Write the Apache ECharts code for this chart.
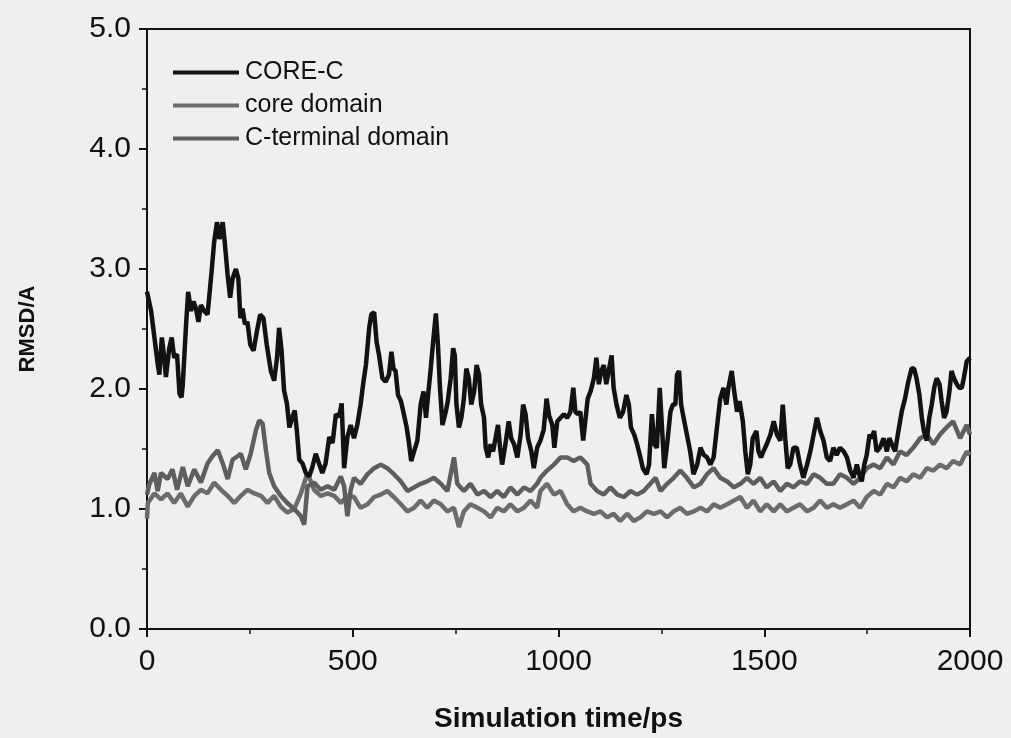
<!DOCTYPE html>
<html>
<head>
<meta charset="utf-8">
<script src="https://cdn.jsdelivr.net/npm/echarts@6/dist/echarts.min.js"></script>
<style>
html,body{margin:0;padding:0;background:#efefef;}
#c{width:1011px;height:738px;}
</style>
</head>
<body>
<div id="c"></div>
<script>
// ---- data (time in ps, RMSD in Å) ----
const xTicks = [0, 500, 1000, 1500, 2000];
const yTicks = [0.0, 1.0, 2.0, 3.0, 4.0, 5.0];
const seriesNames = ["CORE-C", "core domain", "C-terminal domain"];

const coreCTime = [0,10,18,26,30,36,41,46,54,60,66,73,79,84,87,95,100,107,113,119,125,131,139,147,151,157,163,170,176,184,189,196,202,208,216,222,227,232,238,244,251,259,267,275,283,291,301,309,316,321,327,333,340,346,354,359,364,370,378,386,394,402,410,418,426,434,443,451,459,467,473,479,487,495,503,511,519,526,532,540,545,552,558,564,572,580,588,594,599,604,610,617,623,631,637,642,649,657,665,672,678,684,689,696,702,707,712,718,726,731,738,744,748,752,758,764,770,776,782,788,795,801,807,812,819,823,829,835,841,847,853,858,863,871,879,885,892,900,908,914,920,926,934,940,948,956,964,971,977,985,990,997,1005,1013,1021,1029,1036,1041,1047,1053,1060,1066,1071,1078,1086,1092,1098,1104,1110,1116,1122,1129,1134,1141,1149,1157,1165,1171,1176,1184,1191,1199,1205,1214,1220,1227,1233,1239,1246,1252,1257,1264,1272,1278,1284,1288,1293,1298,1304,1312,1320,1328,1337,1345,1353,1361,1369,1377,1385,1393,1401,1408,1413,1421,1427,1434,1440,1448,1454,1460,1466,1472,1481,1486,1492,1498,1506,1515,1523,1531,1539,1545,1551,1557,1563,1571,1579,1587,1595,1604,1612,1620,1628,1636,1644,1652,1660,1668,1676,1684,1693,1701,1709,1717,1725,1731,1737,1743,1749,1756,1761,1767,1773,1781,1790,1798,1804,1810,1818,1826,1834,1842,1850,1858,1864,1870,1877,1883,1888,1895,1901,1907,1913,1919,1926,1931,1937,1943,1950,1955,1961,1968,1974,1980,1985,1992,2000];
const coreCRmsd = [2.81,2.65,2.43,2.21,2.12,2.43,2.29,2.10,2.34,2.43,2.26,2.29,1.96,1.93,2.04,2.54,2.81,2.65,2.73,2.67,2.56,2.70,2.65,2.62,2.76,2.98,3.22,3.39,3.25,3.39,3.22,2.95,2.76,2.92,3.00,2.92,2.59,2.67,2.54,2.56,2.37,2.32,2.48,2.62,2.59,2.37,2.15,2.07,2.26,2.51,2.32,1.99,1.88,1.68,1.77,1.82,1.66,1.41,1.38,1.30,1.27,1.35,1.46,1.38,1.30,1.38,1.60,1.55,1.79,1.77,1.88,1.34,1.60,1.70,1.59,1.70,1.87,2.06,2.20,2.51,2.62,2.64,2.39,2.28,2.09,2.06,2.12,2.31,2.17,2.15,1.95,1.90,1.81,1.68,1.54,1.40,1.48,1.57,1.87,1.98,1.76,1.98,2.15,2.42,2.63,2.37,2.01,1.70,1.81,1.90,2.09,2.34,2.28,1.87,1.68,1.76,1.92,2.17,2.09,1.87,1.98,2.20,2.12,1.87,1.76,1.51,1.43,1.54,1.48,1.59,1.70,1.51,1.37,1.54,1.73,1.59,1.54,1.43,1.62,1.87,1.79,1.59,1.48,1.34,1.51,1.57,1.66,1.92,1.78,1.70,1.51,1.73,1.76,1.79,1.76,1.81,2.01,1.81,1.79,1.81,1.57,1.76,1.92,1.98,2.09,2.26,2.04,2.15,2.20,2.04,2.15,2.28,2.01,1.87,1.76,1.81,1.95,1.87,1.68,1.62,1.54,1.43,1.34,1.29,1.37,1.79,1.54,1.51,2.01,1.65,1.34,1.54,1.81,1.87,1.87,2.12,2.15,1.87,1.76,1.62,1.48,1.29,1.37,1.51,1.45,1.43,1.37,1.43,1.68,1.92,2.01,1.87,2.01,2.15,1.98,1.81,1.90,1.73,1.48,1.29,1.37,1.59,1.65,1.48,1.43,1.48,1.54,1.62,1.73,1.62,1.57,1.87,1.59,1.34,1.37,1.51,1.51,1.37,1.26,1.37,1.48,1.62,1.76,1.65,1.57,1.43,1.40,1.51,1.45,1.51,1.48,1.43,1.32,1.26,1.37,1.29,1.23,1.37,1.45,1.62,1.59,1.65,1.48,1.51,1.59,1.48,1.59,1.54,1.48,1.65,1.81,1.92,2.06,2.17,2.17,2.09,1.95,1.76,1.65,1.57,1.76,1.87,2.01,2.09,2.04,1.90,1.76,1.81,1.98,2.15,2.09,2.04,2.01,2.01,2.09,2.23,2.26];

const coreDomTime = [0,2,18,34,50,66,82,99,115,131,147,163,180,196,212,228,244,261,277,293,309,325,341,358,374,390,406,422,439,455,471,487,503,519,536,552,568,584,600,617,633,649,665,681,697,714,730,746,758,770,786,803,819,835,851,867,883,900,916,932,948,956,972,989,1005,1021,1037,1053,1070,1086,1102,1118,1134,1150,1167,1183,1199,1215,1232,1248,1264,1280,1296,1312,1329,1345,1361,1377,1393,1410,1426,1442,1458,1474,1490,1506,1523,1539,1555,1571,1587,1604,1620,1636,1652,1668,1684,1701,1717,1733,1749,1766,1782,1798,1814,1830,1846,1862,1879,1895,1911,1927,1943,1959,1976,1992,2000];
const coreDomRmsd = [0.92,1.05,1.13,1.08,1.13,1.05,1.13,1.02,1.11,1.16,1.13,1.22,1.16,1.11,1.05,1.11,1.16,1.13,1.11,1.05,1.11,1.02,0.97,1.00,1.13,1.30,1.16,1.11,1.13,1.11,1.05,1.11,1.10,1.01,1.04,1.10,1.12,1.15,1.10,1.04,0.98,1.01,1.07,1.01,1.07,1.04,0.98,1.01,0.85,0.98,1.04,1.01,0.98,0.93,1.01,0.98,1.04,0.98,1.01,1.07,1.01,1.15,1.21,1.12,1.15,1.04,0.98,1.01,0.98,0.96,0.98,0.93,0.96,0.90,0.96,0.90,0.93,0.98,0.96,0.98,0.93,0.98,1.01,0.96,0.98,1.01,0.98,1.04,1.01,1.04,1.07,1.10,1.01,1.07,0.98,1.04,0.98,1.04,0.98,1.01,1.04,0.98,1.01,1.07,1.01,1.04,1.01,1.04,1.07,1.01,1.10,1.15,1.12,1.21,1.18,1.26,1.23,1.29,1.26,1.34,1.32,1.37,1.34,1.40,1.37,1.48,1.45];

const cTermTime = [0,5,18,26,34,50,62,73,87,99,115,131,147,159,172,184,196,208,220,228,240,252,265,273,281,289,297,309,325,341,358,374,382,390,406,422,439,455,471,479,487,495,503,519,536,552,568,584,600,617,633,649,665,681,697,714,730,746,754,770,786,803,819,835,851,867,883,900,916,932,948,956,972,989,1005,1021,1037,1053,1070,1078,1094,1110,1126,1143,1159,1175,1191,1207,1223,1236,1248,1264,1280,1296,1312,1329,1345,1361,1377,1393,1410,1426,1442,1458,1474,1490,1506,1523,1539,1555,1571,1587,1604,1620,1636,1652,1668,1684,1701,1717,1733,1749,1766,1782,1798,1814,1830,1846,1862,1879,1895,1911,1927,1943,1959,1976,1992,2000];
const cTermRmsd = [1.12,1.20,1.30,1.15,1.30,1.25,1.33,1.16,1.35,1.19,1.33,1.22,1.38,1.44,1.49,1.38,1.25,1.41,1.44,1.46,1.33,1.46,1.66,1.74,1.71,1.49,1.30,1.19,1.11,1.05,1.00,0.94,0.87,1.19,1.22,1.16,1.19,1.16,1.27,1.19,0.94,1.16,1.26,1.21,1.29,1.34,1.37,1.34,1.29,1.23,1.15,1.18,1.21,1.23,1.26,1.21,1.15,1.43,1.21,1.15,1.21,1.12,1.15,1.10,1.15,1.10,1.18,1.12,1.18,1.15,1.21,1.26,1.32,1.37,1.43,1.43,1.40,1.43,1.37,1.21,1.15,1.12,1.18,1.12,1.10,1.15,1.12,1.15,1.21,1.26,1.15,1.21,1.26,1.32,1.26,1.18,1.21,1.29,1.34,1.26,1.23,1.18,1.21,1.26,1.21,1.26,1.18,1.23,1.15,1.21,1.18,1.23,1.21,1.29,1.26,1.21,1.21,1.29,1.26,1.21,1.26,1.34,1.37,1.34,1.43,1.37,1.48,1.45,1.51,1.59,1.62,1.54,1.62,1.68,1.73,1.59,1.70,1.62];

function zip(t, v) { return t.map((x, i) => [x, v[i]]); }

const chart = echarts.init(document.getElementById('c'), null, {renderer: 'canvas'});
const FONT = 'Liberation Sans, Arial, sans-serif';
const axisFont = {fontFamily: FONT, fontSize: 30, color: '#111'};
const lineStyleAxis = {color: '#111', width: 2};

chart.setOption({
  backgroundColor: '#efefef',
  animation: false,
  grid: {left: 147, right: 41, top: 29, bottom: 106, show: true, borderColor: '#111', borderWidth: 2, backgroundColor: 'transparent'},
  legend: {
    data: seriesNames,
    orient: 'vertical',
    left: 168, top: 55,
    itemWidth: 66, itemHeight: 4, itemGap: 8,
    icon: 'rect',
    textStyle: {fontFamily: FONT, fontSize: 25, lineHeight: 25, color: '#111', padding: [0, 0, 0, 1]}
  },
  xAxis: {
    type: 'value', min: 0, max: 2000, interval: 500,
    name: 'Simulation time/ps', nameLocation: 'middle', nameGap: 76,
    nameTextStyle: {fontFamily: FONT, fontSize: 28, fontWeight: 'bold', color: '#111'},
    axisLine: {show: true, lineStyle: lineStyleAxis},
    axisTick: {show: true, inside: false, length: 8, lineStyle: lineStyleAxis},
    minorTick: {show: true, splitNumber: 2, length: 5, lineStyle: {color: '#111', width: 1.5}},
    axisLabel: Object.assign({margin: 18, formatter: v => xTicks.includes(v) ? String(v) : ''}, axisFont),
    splitLine: {show: false}
  },
  yAxis: {
    type: 'value', min: 0, max: 5, interval: 1,
    name: 'RMSD/A', nameLocation: 'middle', nameGap: 108,
    nameTextStyle: {fontFamily: FONT, fontSize: 22, fontWeight: 'bold', color: '#111'},
    axisLine: {show: true, lineStyle: lineStyleAxis},
    axisTick: {show: true, inside: false, length: 8, lineStyle: lineStyleAxis},
    minorTick: {show: true, splitNumber: 2, length: 5, lineStyle: {color: '#111', width: 1.5}},
    axisLabel: Object.assign({margin: 16, formatter: v => yTicks.includes(v) ? v.toFixed(1) : ''}, axisFont),
    splitLine: {show: false}
  },
  series: [
    {name: seriesNames[0], type: 'line', data: zip(coreCTime, coreCRmsd), showSymbol: false, z: 5,
     lineStyle: {color: '#121212', width: 4.5}, itemStyle: {color: '#121212'}},
    {name: seriesNames[1], type: 'line', data: zip(coreDomTime, coreDomRmsd), showSymbol: false, z: 3,
     lineStyle: {color: '#6c6c6c', width: 4.5}, itemStyle: {color: '#6c6c6c'}},
    {name: seriesNames[2], type: 'line', data: zip(cTermTime, cTermRmsd), showSymbol: false, z: 4,
     lineStyle: {color: '#5e5e5e', width: 4.5}, itemStyle: {color: '#5e5e5e'}}
  ]
});
</script>
</body>
</html>
